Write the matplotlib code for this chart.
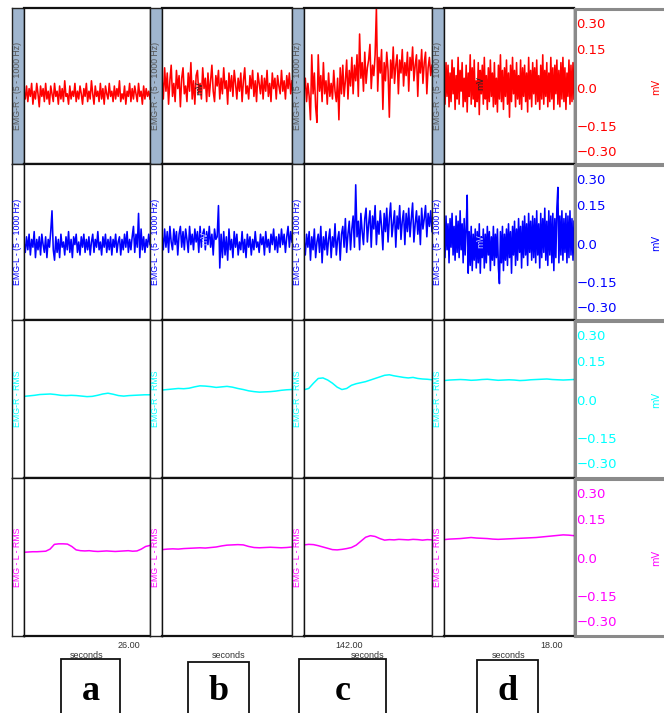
import numpy as np
import matplotlib
matplotlib.use("Agg")
import matplotlib.pyplot as plt
from matplotlib.patches import Rectangle

W, H = 664, 713

# ---------------- data (mV) ----------------
emg_r_a = [-0.02,-0.05,0.00,-0.06,-0.01,-0.04,0.01,-0.07,-0.02,-0.05,0.01,-0.03,-0.08,0.00,-0.04,-0.01,-0.06,0.01,-0.05,-0.02,
           -0.07,0.00,-0.03,-0.06,0.01,-0.04,-0.02,-0.07,0.00,-0.05,-0.01,-0.06,0.02,-0.04,-0.03,-0.07,0.00,-0.05,-0.02,-0.04,
           0.01,-0.06,-0.02,-0.05,0.00,-0.03,-0.07,-0.01,-0.04,0.01,-0.06,-0.02,-0.05,0.02,-0.03,-0.07,0.00,-0.04,-0.02,-0.06,
           0.01,-0.05,-0.01,-0.07,0.00,-0.03,-0.05,0.01,-0.04,-0.02,-0.06,0.00,-0.05,-0.01,-0.04,0.02,-0.06,-0.03,-0.05,0.00,
           -0.07,-0.02,-0.04,0.01,-0.06,-0.01,-0.05,0.00,-0.03,-0.06,0.01,-0.04,-0.02,-0.07,0.00,-0.05,-0.01,-0.04,-0.02,-0.05]
emg_r_b = [0.03,-0.05,0.07,-0.02,0.05,-0.07,0.02,0.08,-0.04,0.01,-0.06,0.06,-0.01,0.04,-0.08,0.03,0.07,-0.03,0.00,-0.06,
           0.05,-0.02,0.09,-0.05,0.02,-0.07,0.04,0.06,-0.03,0.01,-0.05,0.07,-0.01,0.03,-0.06,0.05,-0.04,0.02,0.08,-0.02,
           -0.06,0.04,0.00,0.06,-0.05,0.03,-0.03,0.07,-0.01,0.02,-0.07,0.05,-0.02,0.04,-0.04,0.06,0.01,-0.05,0.03,-0.02,
           0.05,-0.06,0.02,0.07,-0.03,0.00,-0.05,0.04,-0.01,0.06,-0.04,0.02,-0.06,0.05,0.01,-0.03,0.04,-0.05,0.03,-0.02,
           0.06,-0.04,0.01,-0.06,0.05,-0.01,0.03,-0.05,0.04,0.00,-0.03,0.06,-0.02,0.02,-0.05,0.04,-0.01,0.05,-0.03,0.02]
emg_r_c = [-0.02,0.03,-0.06,0.01,-0.04,-0.13,0.12,-0.03,0.05,-0.08,
           -0.14,0.12,-0.02,0.04,-0.06,0.09,-0.03,0.02,-0.07,0.05,
           -0.04,0.01,-0.05,0.06,-0.02,-0.06,0.03,-0.13,0.07,-0.03,
           0.08,-0.04,0.02,0.10,-0.05,0.06,0.00,0.11,-0.03,0.08,
           0.02,0.12,-0.04,0.20,0.03,0.09,-0.02,0.13,0.01,0.07,
           0.10,0.16,-0.01,0.08,0.04,0.12,0.30,-0.02,0.11,0.05,
           0.14,-0.09,0.09,0.02,0.13,0.06,-0.12,0.10,0.03,0.15,
           0.01,0.08,0.12,-0.03,0.10,0.05,0.14,0.00,0.09,0.04,
           0.13,-0.02,0.11,0.06,0.15,0.02,0.08,0.12,-0.04,0.10,
           0.05,0.14,0.01,0.09,0.13,-0.03,0.07,0.11,0.04,0.08]
emg_r_d = [0.06,-0.07,0.09,-0.04,0.08,-0.08,0.05,-0.06,0.10,-0.03,
           0.07,-0.09,0.04,-0.05,0.11,-0.07,0.06,-0.02,0.09,-0.08,
           0.03,-0.06,0.08,-0.10,0.05,-0.04,0.12,-0.07,0.07,-0.05,
           0.10,-0.08,0.02,-0.06,0.09,-0.11,0.06,-0.03,0.08,-0.07,
           0.11,-0.05,0.04,-0.09,0.07,-0.06,0.10,-0.04,0.05,-0.08,
           0.09,-0.07,0.03,-0.10,0.08,-0.05,0.12,-0.06,0.06,-0.09,
           0.07,-0.04,0.10,-0.07,0.05,-0.12,0.08,-0.06,0.11,-0.03,
           0.06,-0.08,0.09,-0.05,0.04,-0.07,0.10,-0.09,0.07,-0.04,
           0.08,-0.06,0.05,-0.10,0.11,-0.05,0.06,-0.08,0.09,-0.03,
           0.07,-0.07,0.10,-0.06,0.04,-0.09,0.08,-0.05,0.12,-0.07,
           0.06,-0.04,0.09,-0.08,0.05,-0.06,0.11,-0.05,0.07,-0.09,
           0.08,-0.03,0.10,-0.07,0.06,-0.08,0.09,-0.05,0.11,-0.06,
           0.07,-0.09,0.05,-0.04,0.10,-0.07,0.08,-0.06,0.09,-0.05]

emg_l_a = [0.00,-0.04,0.02,-0.03,0.03,-0.05,0.01,-0.02,0.04,-0.06,
           0.01,-0.03,0.02,-0.05,0.03,-0.01,-0.04,0.02,-0.06,0.01,
           -0.02,0.04,0.12,-0.03,-0.07,0.02,-0.04,0.01,-0.06,0.03,
           -0.02,0.00,-0.05,0.02,-0.03,0.04,-0.04,0.01,-0.06,0.02,
           -0.01,0.03,-0.04,0.00,-0.05,0.02,-0.02,0.03,-0.04,0.01,
           -0.03,0.02,-0.05,0.00,0.03,-0.04,0.01,-0.02,0.04,-0.03,
           0.00,-0.05,0.02,-0.02,0.03,-0.04,0.01,-0.03,0.02,-0.05,
           0.01,-0.02,0.03,-0.04,0.00,0.02,-0.05,0.01,-0.03,0.03,
           -0.02,0.04,-0.04,0.01,-0.03,0.02,0.06,-0.04,0.03,-0.02,
           0.11,-0.06,0.05,-0.03,0.02,-0.04,0.01,-0.02,0.03,-0.01]
emg_l_b = [0.03,-0.03,0.05,-0.02,0.04,-0.04,0.06,0.00,-0.03,0.05,
           -0.01,0.04,-0.05,0.03,0.06,-0.02,0.04,-0.03,0.05,0.01,
           -0.04,0.06,-0.01,0.03,-0.03,0.05,0.00,0.04,-0.04,0.06,
           -0.02,0.03,0.05,-0.03,0.04,-0.01,0.06,-0.02,0.03,-0.05,
           0.05,0.01,0.02,0.14,-0.10,0.03,-0.06,0.04,-0.05,0.02,
           -0.07,0.05,-0.03,0.01,-0.06,0.04,-0.02,0.03,-0.05,0.00,
           -0.03,0.04,-0.04,0.01,-0.06,0.03,-0.02,0.02,-0.05,0.01,
           -0.03,0.04,-0.02,0.00,-0.04,0.03,-0.01,0.02,-0.05,0.04,
           -0.02,0.01,-0.04,0.03,-0.01,0.05,-0.03,0.02,-0.04,0.03,
           -0.02,0.05,-0.01,0.03,-0.04,0.02,0.06,-0.02,0.04,0.00]
emg_l_c = [0.01,-0.05,0.03,-0.02,0.04,-0.07,0.02,-0.03,0.05,-0.06,
           0.00,0.03,-0.04,0.06,-0.08,0.02,-0.03,0.04,-0.05,0.01,
           0.05,-0.06,0.02,-0.02,0.07,-0.05,0.01,0.04,-0.07,0.03,
           0.06,-0.02,0.09,-0.04,0.03,0.08,-0.03,0.05,0.10,-0.02,
           0.22,0.02,0.08,-0.03,0.11,0.04,-0.01,0.09,0.13,0.00,
           0.07,0.12,-0.02,0.10,0.05,0.14,-0.01,0.08,0.03,0.12,
           0.06,-0.03,0.11,0.04,0.13,0.00,0.09,0.15,0.02,0.07,
           0.12,-0.02,0.10,0.05,0.14,0.01,0.08,0.12,-0.01,0.11,
           0.04,0.13,0.02,0.09,0.15,0.00,0.07,0.12,0.03,0.10,
           -0.01,0.13,0.05,0.09,0.14,0.02,0.11,0.06,0.12,0.04]
emg_l_d = [0.08,-0.06,0.10,-0.03,0.07,-0.08,0.09,-0.02,0.11,-0.05,
           0.06,-0.07,0.10,-0.04,0.08,-0.06,0.12,-0.03,0.07,-0.08,
           0.09,-0.05,0.05,0.18,-0.12,0.04,-0.09,0.06,-0.11,0.03,
           -0.07,0.05,-0.10,0.04,-0.08,0.07,-0.12,0.02,-0.06,0.05,
           -0.10,0.03,-0.08,0.06,-0.05,0.04,-0.11,0.02,-0.07,0.06,
           -0.09,0.03,-0.06,0.05,-0.10,-0.16,0.04,-0.08,0.06,-0.11,
           0.03,-0.07,0.05,-0.09,0.07,-0.06,0.04,-0.12,0.06,-0.05,
           0.08,-0.09,0.05,-0.07,0.09,-0.04,0.06,-0.10,0.08,-0.06,
           0.10,-0.05,0.07,-0.09,0.11,-0.04,0.08,-0.07,0.10,-0.06,
           0.09,-0.08,0.12,-0.05,0.07,-0.10,0.11,-0.06,0.09,-0.04,
           0.13,-0.07,0.08,-0.09,0.12,-0.05,0.10,-0.08,0.11,-0.11,
           0.09,-0.06,0.13,0.21,-0.08,0.10,-0.05,0.12,-0.07,0.09,
           -0.04,0.11,-0.08,0.10,-0.06,0.12,-0.05,0.09,-0.07,0.08]

rms_r_a = [0.010,0.012,0.014,0.017,0.018,0.019,0.017,0.014,0.013,0.014,0.013,0.011,0.009,
           0.010,0.014,0.019,0.022,0.018,0.013,0.011,0.013,0.014,0.015,0.016,0.016]
rms_r_b = [0.034,0.036,0.038,0.040,0.039,0.041,0.046,0.050,0.049,0.047,0.044,0.046,0.048,
           0.045,0.040,0.036,0.031,0.028,0.026,0.027,0.028,0.030,0.033,0.035,0.036]
rms_r_c = [0.035,0.040,0.060,0.078,0.080,0.072,0.060,0.045,0.036,0.040,0.052,0.058,0.062,0.066,
           0.072,0.078,0.084,0.090,0.092,0.088,0.085,0.082,0.080,0.082,0.078,0.076,0.075,0.073]
rms_r_d = [0.070,0.072,0.073,0.074,0.073,0.071,0.072,0.074,0.075,0.073,0.071,0.072,0.073,
           0.072,0.070,0.071,0.073,0.074,0.075,0.076,0.074,0.073,0.072,0.073,0.074]

rms_l_a = [0.018,0.019,0.020,0.020,0.021,0.022,0.030,0.048,0.050,0.050,0.049,0.040,0.027,0.024,0.023,
           0.024,0.022,0.021,0.022,0.023,0.022,0.021,0.022,0.023,0.024,0.022,0.023,0.030,0.040,0.044]
rms_l_b = [0.028,0.030,0.031,0.030,0.032,0.033,0.034,0.035,0.034,0.036,0.038,0.042,0.045,
           0.046,0.047,0.046,0.040,0.036,0.035,0.036,0.037,0.036,0.035,0.036,0.038]
rms_l_c = [0.046,0.048,0.047,0.043,0.038,0.033,0.028,0.027,0.029,0.032,0.036,0.045,0.060,0.075,
           0.081,0.078,0.070,0.064,0.066,0.065,0.067,0.066,0.065,0.067,0.066,0.064,0.066,0.065]
rms_l_d = [0.066,0.068,0.069,0.070,0.072,0.074,0.072,0.071,0.070,0.068,0.067,0.068,0.069,
           0.070,0.071,0.072,0.073,0.074,0.076,0.078,0.080,0.082,0.084,0.083,0.081]

row_labels = ["EMG-R - (5 - 1000 Hz)", "EMG-L - (5 - 1000 Hz)", "EMG-R - RMS", "EMG - L - RMS"]
row_colors = ["#ff0000", "#0000ff", "#00ffff", "#ff00ff"]
panel_letters = ["a", "b", "c", "d"]
scale_tick_labels = ["0.30", "0.15", "0.0", "-0.15", "-0.30"]
time_labels = ["26.00", "", "142.00", "18.00"]
unit_label = "mV"
time_unit = "seconds"
y_range = (-0.30, 0.30)

series = [[emg_r_a, emg_r_b, emg_r_c, emg_r_d],
          [emg_l_a, emg_l_b, emg_l_c, emg_l_d],
          [rms_r_a, rms_r_b, rms_r_c, rms_r_d],
          [rms_l_a, rms_l_b, rms_l_c, rms_l_d]]

# ---------------- layout ----------------
fig = plt.figure(figsize=(W / 100, H / 100), dpi=100)
fig.patch.set_facecolor("white")


def px_axes(x0, y0, x1, y1, **kw):
    return fig.add_axes([x0 / W, 1 - y1 / H, (x1 - x0) / W, (y1 - y0) / H], **kw)


row_tops = [8, 164, 320, 478]
row_bots = [164, 320, 478, 636]
strip_x = [12, 150, 292, 432]
plot_x = [(24, 150), (162, 292), (304, 432), (444, 574)]
label_colors = ["#555555", "#0000ff", "#00ffff", "#ff00ff"]
strip_faces = ["#a0b6cf", "white", "white", "white"]

for r in range(4):
    t, b = row_tops[r], row_bots[r]
    for c in range(4):
        # label strip
        sax = px_axes(strip_x[c], t, strip_x[c] + 12, b)
        sax.set_facecolor(strip_faces[r])
        sax.set_xticks([]); sax.set_yticks([])
        for sp in sax.spines.values():
            sp.set_color("#222222"); sp.set_linewidth(1.0)
        sax.text(0.5, 0.5, row_labels[r], rotation=90, ha="center", va="center",
                 transform=sax.transAxes, fontsize=6.3, color=label_colors[r],
                 family="Liberation Sans")
        # trace panel
        x0, x1 = plot_x[c]
        ax = px_axes(x0, t, x1, b)
        y = series[r][c]
        xs = np.arange(len(y))
        ax.plot(xs, y, color=row_colors[r], lw=1.15 if r < 2 else 1.1)
        ax.set_xlim(0, len(y) - 1)
        ax.set_ylim(*y_range)
        ax.set_xticks([]); ax.set_yticks([])
        for k, sp in ax.spines.items():
            sp.set_color("#111111")
            sp.set_linewidth(1.6 if k in ("top", "bottom") else 1.0)

    # right scale panel
    rax = px_axes(575, t + 1, 700, b)
    rax.set_xlim(0, 1)
    rax.set_ylim(b - t, 0)
    rax.set_xticks([]); rax.set_yticks([])
    for sp in rax.spines.values():
        sp.set_color("#8a8a8a"); sp.set_linewidth(2.2)
    offsets = [16, 42, 81, 119, 144]
    for lab, off in zip(scale_tick_labels, offsets):
        rax.text(0.01, off, lab.replace("-", "\u2212"), ha="left", va="center",
                 fontsize=9.5, color=row_colors[r], family="DejaVu Sans")
    fig.text(656 / W, 1 - ((t + b) / 2 + 1) / H, unit_label, rotation=90, ha="center",
             va="center", fontsize=7, color=row_colors[r])

# small in-panel unit labels
fig.text(200 / W, 1 - 88 / H, unit_label, rotation=90, ha="center", va="center", fontsize=6, color="#222222")
fig.text(481 / W, 1 - 83 / H, unit_label, rotation=90, ha="center", va="center", fontsize=6, color="#222222")
fig.text(205 / W, 1 - 238 / H, unit_label, rotation=90, ha="center", va="center", fontsize=6, color="#ccd0ff")
fig.text(481 / W, 1 - 241 / H, unit_label, rotation=90, ha="center", va="center", fontsize=6, color="#ccd0ff")

# time labels
time_x = [129, None, 349, 552]
sec_x = [87, 229, 368, 509]
for c in range(4):
    if time_labels[c]:
        fig.text(time_x[c] / W, 1 - 645 / H, time_labels[c], ha="center", va="center",
                 fontsize=6.5, color="#333333", family="Liberation Sans")
    fig.text(sec_x[c] / W, 1 - 655 / H, time_unit, ha="center", va="center",
             fontsize=6.5, color="#333333", family="Liberation Sans")

# letter boxes
boxes = [(61, 659, 120), (188, 662, 249), (299, 659, 386), (477, 660, 538)]
for (bx0, by0, bx1), letter in zip(boxes, panel_letters):
    rect = Rectangle((bx0 / W, 1 - 730 / H), (bx1 - bx0) / W, (730 - by0) / H,
                     transform=fig.transFigure, fill=False, edgecolor="#111111", lw=1.3)
    fig.add_artist(rect)
    fig.text((bx0 + bx1) / 2 / W, 1 - 692 / H, letter, ha="center", va="center",
             fontsize=26, fontweight="bold", family="Liberation Serif", color="black")

fig.savefig("out.png", dpi=100)
